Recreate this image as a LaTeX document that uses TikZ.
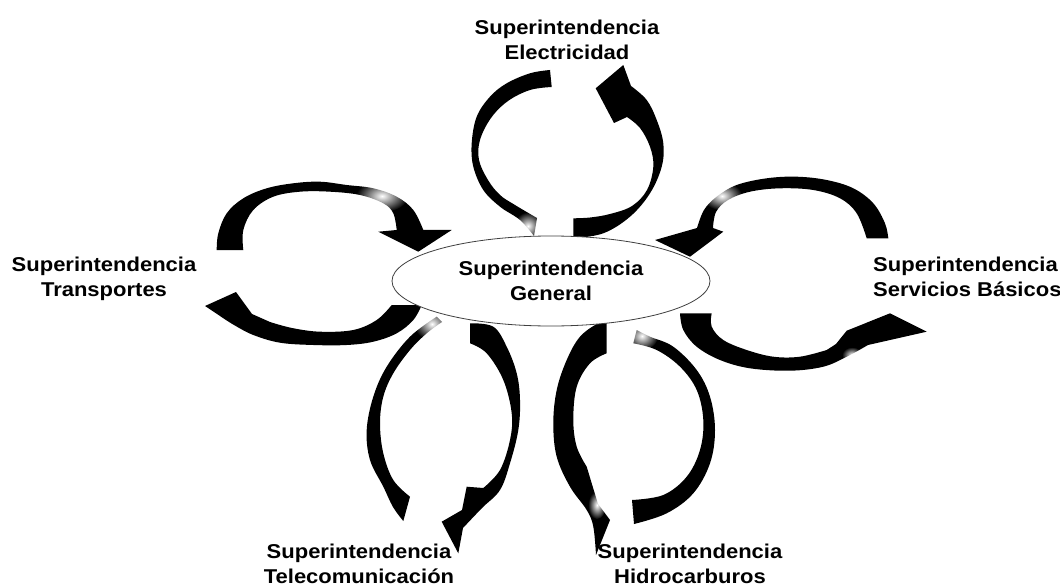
\documentclass[tikz,border=0pt]{standalone}
\usepackage{fontspec}
\setmainfont{Liberation Sans}[FakeStretch=1.1]
\usetikzlibrary{shapes.geometric,fadings}
\tikzfading[name=softspot, inner color=transparent!0, outer color=transparent!100]
\tikzset{
  bandarrow/.style={fill=black},
  fadespot/.style={fill=white, path fading=softspot},
  lbl/.style={inner sep=0pt, align=center, font=\bfseries\fontsize{20}{25}\selectfont},
  hub/.style={ellipse, draw=black!75, line width=0.8pt, fill=white, inner sep=0pt,
    minimum width=318pt, minimum height=90pt, align=center,
    font=\bfseries\fontsize{20}{25}\selectfont},
  sm/.style={smooth, tension=0.6}
}
\begin{document}
\begin{tikzpicture}[x=1pt,y=-1pt]
\useasboundingbox (0,0) rectangle (1060,588);
\fill[white] (0,0) rectangle (1060,588);

% ---- top loop (Electricidad) ----
\fill[bandarrow] plot[sm] coordinates {(550,70) (530,73.3) (506.7,83.3) (490,96.7) (476.7,116.7) (471.7,143.3) (473.3,166.7) (483.3,190) (500,206.7) (520,220) (534,236)}
  -- plot[sm] coordinates {(537,218) (515,205) (500,195) (488,180) (479,160) (480,140) (491,118) (508,101) (530,90) (551.7,87)} -- cycle;
\fill[bandarrow] plot[sm] coordinates {(573.3,238.3) (603.3,233.3) (630,216.7) (650,193.3) (661.7,166.7) (663.3,143.3) (656.7,120) (646.7,100) (631,86)}
  -- (623.3,65) -- (595.7,88.3) -- (614,123)
  -- plot[sm] coordinates {(627,117) (640,128) (650,146.7) (653.3,166.7) (647,190) (632,206) (610,214) (590,217.5) (573.3,218.3)} -- cycle;

% ---- left loop (Transportes) ----
\fill[bandarrow] plot[sm] coordinates {(216.7,250) (218.3,233.3) (226.7,213.3) (243.3,198.3) (266.7,188.3) (293.3,183.3) (320,181.7) (346.7,185) (373.3,188.3) (396.7,196.7) (413.3,210) (423.3,230)}
  -- (451.7,230) -- (418.3,251.7) -- (378.3,231.7)
  -- plot[sm] coordinates {(396.7,230) (393.3,213.3) (383.3,203.3) (360,195) (330,191.7) (300,191.7) (273.3,196.7) (253.3,210) (243.3,230) (243.3,250)} -- cycle;
\fill[bandarrow] plot[sm] coordinates {(421.7,305) (413.3,320) (396.7,333.3) (373.3,341.7) (346.7,345) (313.3,345) (280,342.7) (253.3,335) (234,325) (220,316)}
  -- (205,306) -- (236,292) -- (252,314)
  -- plot[sm] coordinates {(270,322) (292,328) (320,331.7) (353.3,330) (376.7,320) (391.7,305)} -- cycle;

% ---- right loop (Servicios Basicos) ----
\fill[bandarrow] plot[sm] coordinates {(888.3,238.3) (885,223.3) (873.3,203.3) (853.3,188.3) (826.7,180) (796.7,176.7) (766.7,178.3) (736.7,185) (716.7,196.7) (704,210) (697,228)}
  -- (655,240) -- (690,256.7) -- (723.3,231.7)
  -- plot[sm] coordinates {(713,228) (716,212) (728,200) (750,191.7) (780,188.3) (813.3,190) (840,198.3) (856.7,213.3) (866.7,238.3)} -- cycle;
\fill[bandarrow] plot[sm] coordinates {(680,313.3) (683.3,330) (696.7,346.7) (720,360) (750,368.3) (790,370.7) (823.3,366.7) (846.7,356.7) (868,345)}
  -- (926.7,331.7) -- (890,313.3) -- (846.7,330.7) -- (836,344)
  -- plot[sm] coordinates {(826.7,350) (800,356.7) (773.3,356.7) (746.7,350) (723.3,340) (711.7,326.7) (711.7,313.3)} -- cycle;

% ---- lower left loop (Telecomunicacion) ----
\fill[bandarrow] plot[sm] coordinates {(436.7,316.7) (410,336.7) (386.7,366.7) (373.3,396.7) (366.7,430) (370,460) (383.3,486.7) (393,507) (403.3,521)}
  -- plot[sm] coordinates {(410,496.7) (393.3,480) (383.3,453.3) (380,423.3) (383.3,396.7) (393.3,373.3) (410,350) (426.7,333.3) (442,322)} -- cycle;
\fill[bandarrow] plot[sm] coordinates {(470,323.3) (493.3,326.7) (506.7,346.7) (516.7,373.3) (520,400) (518.3,430) (510,463.3) (500,490) (482,508) (463,528)}
  -- (458.3,553.3) -- (441.7,521.7) -- (462,510) -- (466.7,486.7)
  -- plot[sm] coordinates {(483.3,488) (500,470) (510,440) (511.7,413.3) (503.3,380) (486.7,353.3) (470,343.3)} -- cycle;

% ---- lower right loop (Hidrocarburos) ----
\fill[bandarrow] plot[sm] coordinates {(606.7,323.3) (598.3,323.3) (580,336.7) (566.7,360) (556.7,390) (553.3,423.3) (556.7,456.7) (570,486.7) (586.7,510) (593.3,526.7) (596,555)}
  -- (610,520) -- (598,504) -- (591.7,483.3)
  -- plot[sm] coordinates {(586.7,466.7) (576.7,446.7) (573.3,420) (576.7,386.7) (590,363.3) (606.7,353.3)} -- cycle;
\fill[bandarrow] plot[sm] coordinates {(634,524) (666.7,513.3) (693.3,493.3) (710,463.3) (715,430) (710,396.7) (696.7,370) (673.3,346.7) (650,336.7) (636.7,330)}
  -- plot[sm] coordinates {(633.3,343.3) (656.7,350) (680,366.7) (696.7,390) (703.3,420) (700,450) (686.7,476.7) (663.3,495) (632,500)} -- cycle;

% ---- soft highlights where the bands turn away ----
\fill[fadespot] (528,226) ellipse [x radius=14pt, y radius=14pt];
\fill[fadespot] (382,196) ellipse [x radius=26pt, y radius=16pt];
\fill[fadespot] (722,196) ellipse [x radius=20pt, y radius=14pt];
\fill[fadespot] (432,324) ellipse [x radius=18pt, y radius=16pt];
\fill[fadespot] (642,336) ellipse [x radius=16pt, y radius=14pt];
\fill[fadespot] (597,505) ellipse [x radius=9pt, y radius=14pt];
\fill[fadespot] (852,355) ellipse [x radius=10pt, y radius=8pt];

% ---- hub and labels ----
\node[hub] (gen) at (551,281) {Superintendencia\\General};
\node[lbl, anchor=north] (ele) at (567,19.5) {Superintendencia\\Electricidad};
\node[lbl, anchor=north] (tra) at (104,256.5) {Superintendencia\\Transportes};
\node[lbl, anchor=north west, align=left] (ser) at (873,256.5) {Superintendencia\\Servicios Básicos};
\node[lbl, anchor=north] (tel) at (359,543.5) {Superintendencia\\Telecomunicación};
\node[lbl, anchor=north] (hid) at (690,543.5) {Superintendencia\\Hidrocarburos};
\end{tikzpicture}
\end{document}
